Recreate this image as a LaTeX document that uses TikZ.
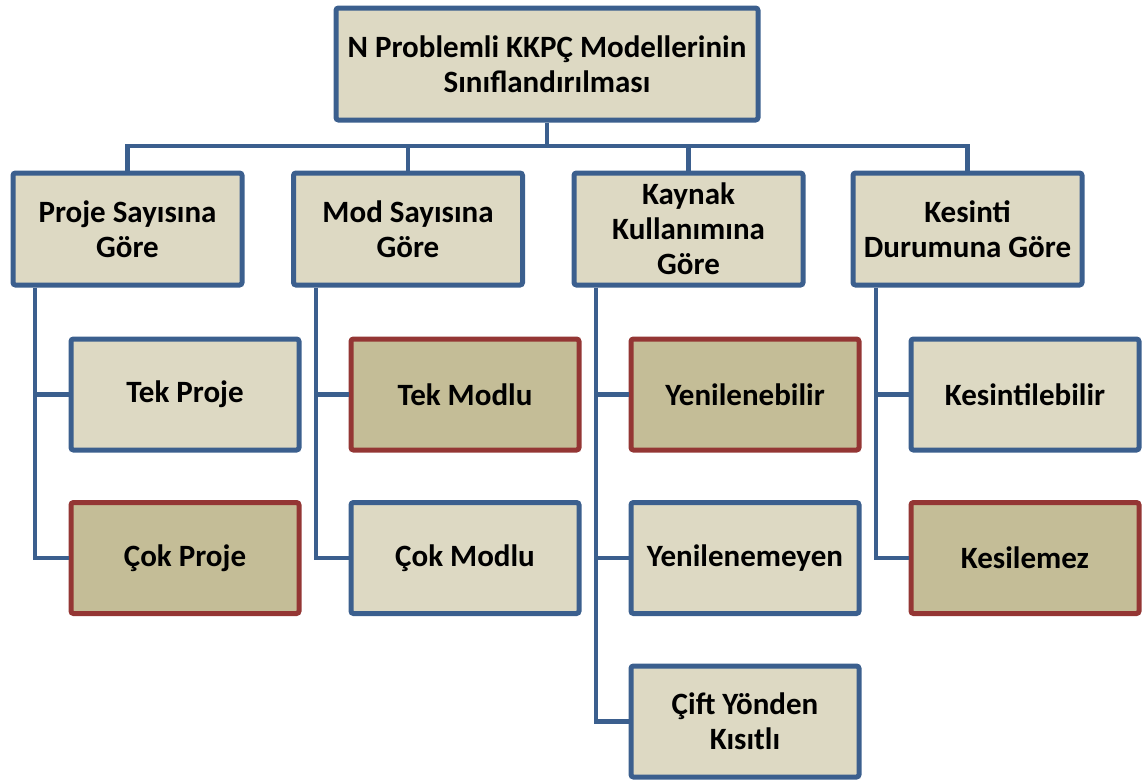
\documentclass[tikz,border=0pt]{standalone}
\usepackage{fontspec}
\setmainfont{Carlito}
\definecolor{lineblue}{HTML}{3B5F8E}
\definecolor{edgered}{HTML}{943634}
\definecolor{paper}{HTML}{DDD9C3}
\definecolor{khaki}{HTML}{C4BD97}
\tikzset{
  card/.style={draw=lineblue, fill=paper, line width=5pt, rounded corners=2.5pt,
    align=center, inner sep=0pt, font=\fontsize{31}{35}\selectfont\bfseries},
  headcard/.style={card, minimum width=229pt, minimum height=112pt},
  leafcard/.style={card, minimum width=228pt, minimum height=111pt},
  picked/.style={draw=edgered, fill=khaki},
  wire/.style={draw=lineblue, line width=4.5pt}
}
\begin{document}
\begin{tikzpicture}[x=1pt, y=-1pt]
\useasboundingbox (0,0) rectangle (1142,782);

% root
\node[card, minimum width=422pt, minimum height=112pt] (root) at (547,64)
  {N Problemli KKPÇ Modellerinin\\Sınıflandırılması};

% classification criteria
\node[headcard] (c1) at (127.5,229) {Proje Sayısına\\Göre};
\node[headcard] (c2) at (408,229) {Mod Sayısına\\Göre};
\node[headcard] (c3) at (688.5,229) {Kaynak\\Kullanımına\\Göre};
\node[headcard] (c4) at (967.5,229) {Kesinti\\Durumuna Göre};

% leaves
\node[leafcard] (p1) at (185,394.5) {Tek Proje};
\node[leafcard, picked] (p2) at (185,558) {Çok Proje};
\node[leafcard, picked] (m1) at (465,394.5) {Tek Modlu};
\node[leafcard] (m2) at (465,558) {Çok Modlu};
\node[leafcard, picked] (k1) at (745,394.5) {Yenilenebilir};
\node[leafcard] (k2) at (745,558) {Yenilenemeyen};
\node[leafcard] (k3) at (745,721.5) {Çift Yönden\\Kısıtlı};
\node[leafcard] (d1) at (1025,394.5) {Kesintilebilir};
\node[leafcard, picked] (d2) at (1025,558) {Kesilemez};

% root to criteria
\coordinate (bus) at (547,146);
\begin{scope}[on background layer/.try]
\draw[wire] (root.south) -- (bus);
\foreach \c in {c1,c2,c3,c4} \draw[wire] (bus) -| (\c.north);

% criteria to leaves
\draw[wire] ([xshift=-92.5pt]c1.south) |- (p1.west);
\draw[wire] ([xshift=-92.5pt]c1.south) |- (p2.west);
\draw[wire] ([xshift=-92pt]c2.south) |- (m1.west);
\draw[wire] ([xshift=-92pt]c2.south) |- (m2.west);
\draw[wire] ([xshift=-92.5pt]c3.south) |- (k1.west);
\draw[wire] ([xshift=-92.5pt]c3.south) |- (k2.west);
\draw[wire] ([xshift=-92.5pt]c3.south) |- (k3.west);
\draw[wire] ([xshift=-91.5pt]c4.south) |- (d1.west);
\draw[wire] ([xshift=-91.5pt]c4.south) |- (d2.west);
\end{scope}
\end{tikzpicture}
\end{document}
